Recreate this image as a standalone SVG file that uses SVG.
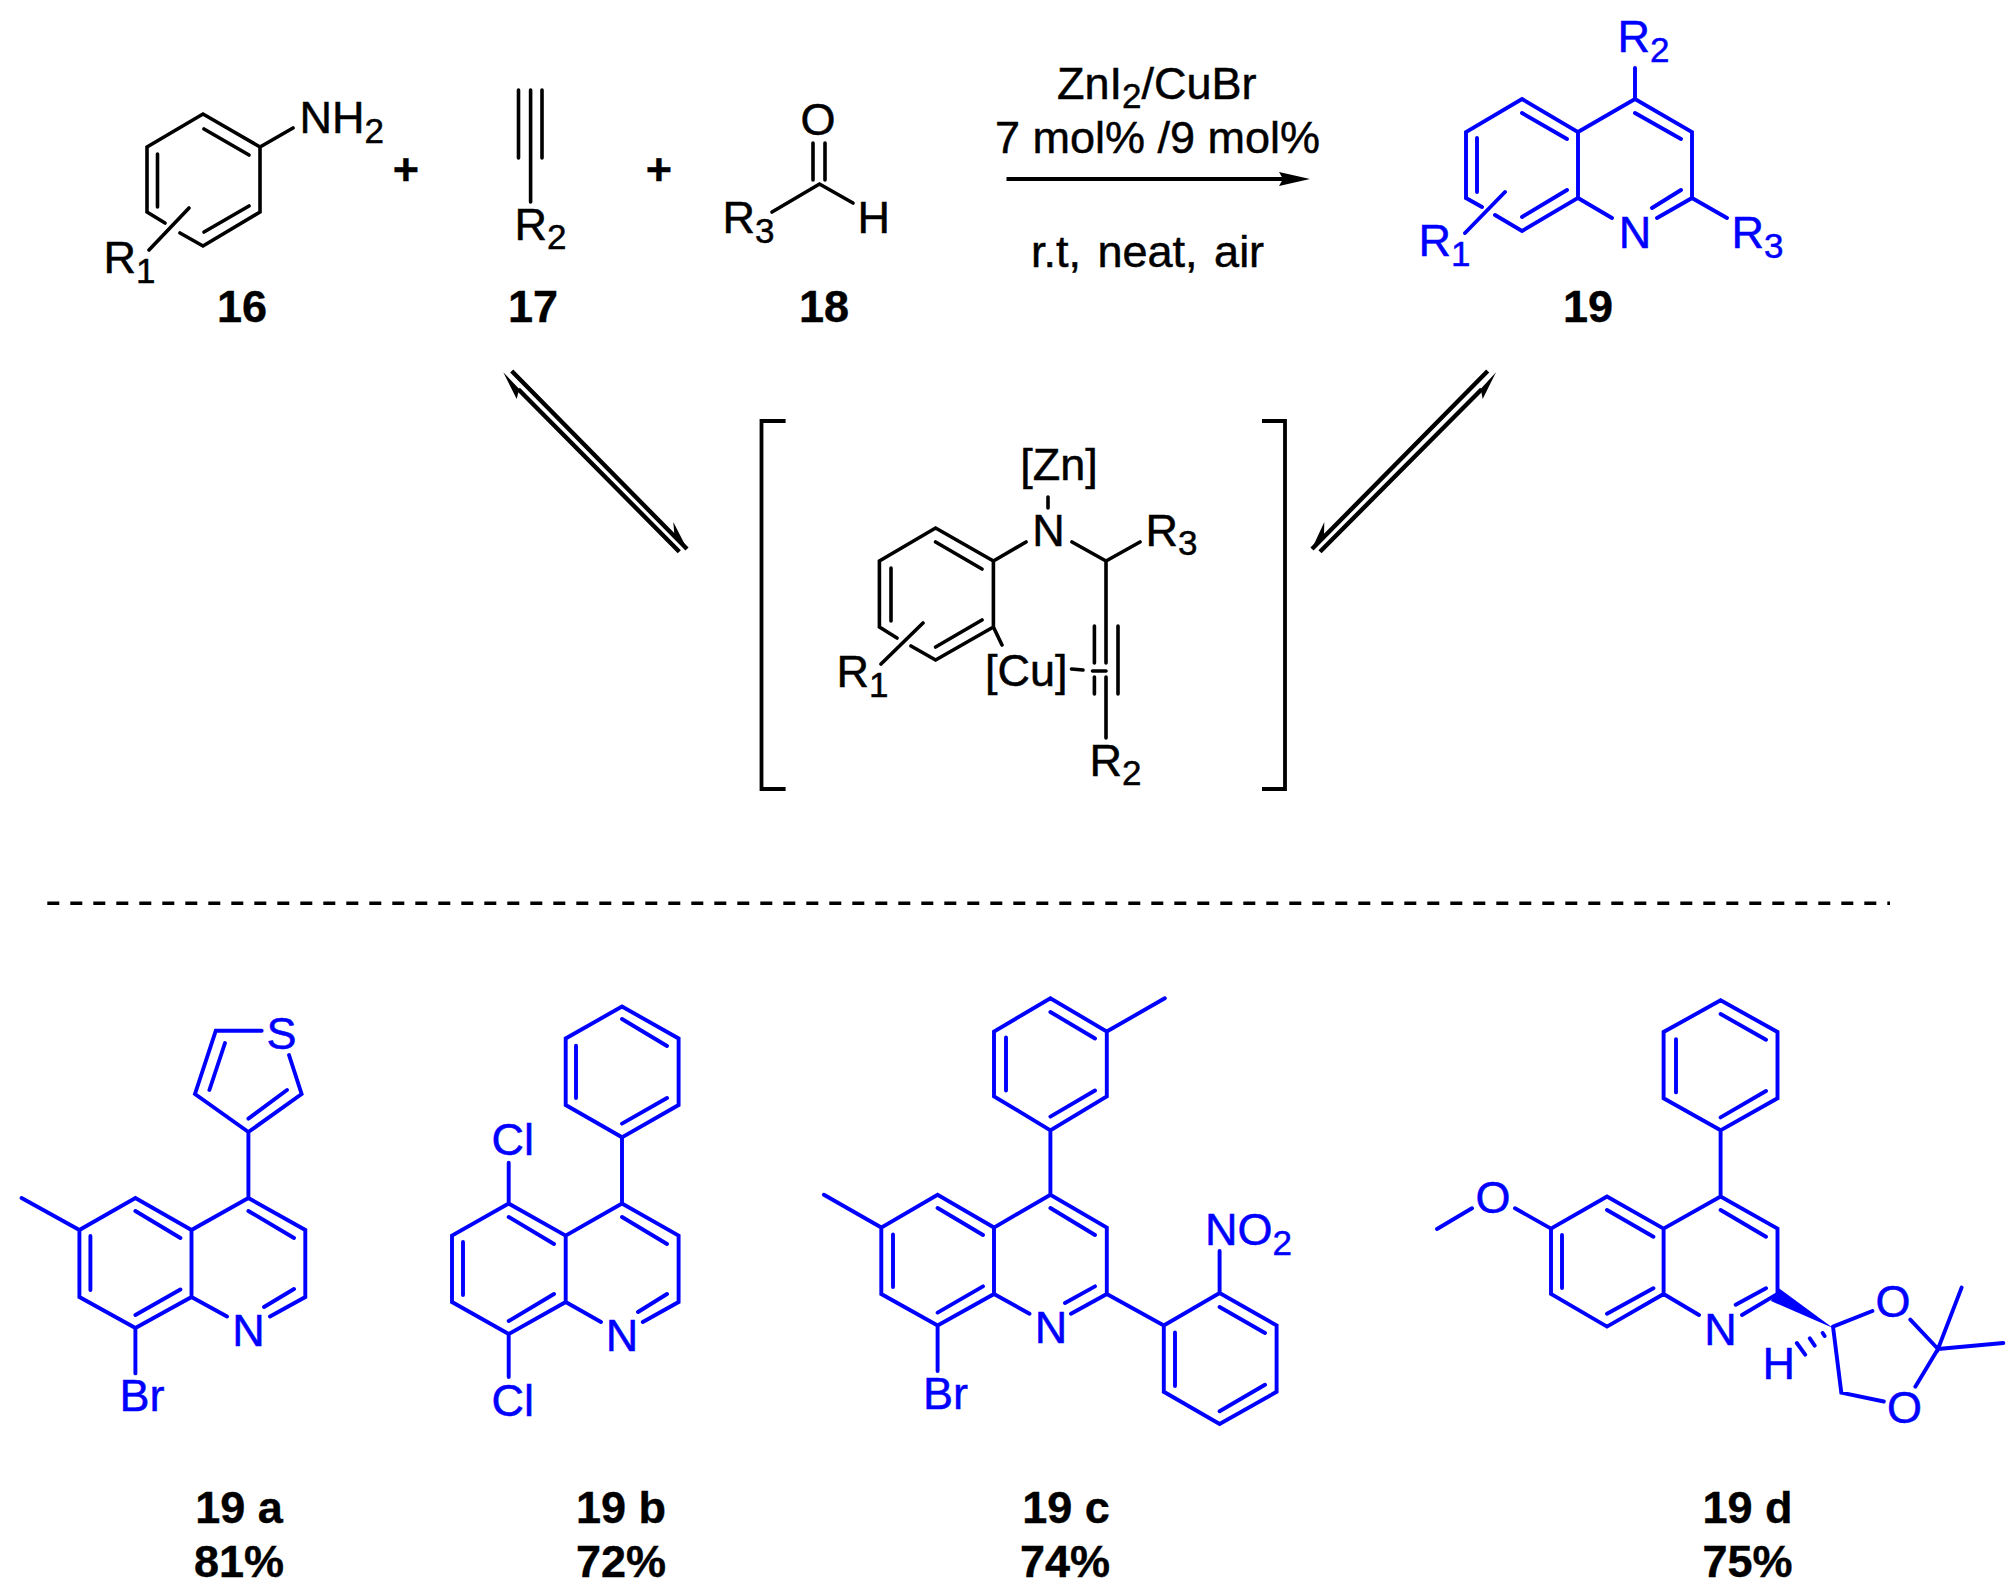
<svg xmlns="http://www.w3.org/2000/svg" width="2015" height="1592" viewBox="0 0 2015 1592">
<style>
text{font-family:"Liberation Sans",Arial,sans-serif;font-size:45px;fill:#000;stroke:#000;stroke-width:.5}
.u text{fill:#0000ff;stroke:#0000ff}
.s{font-size:35px}
.b{font-weight:bold;text-anchor:middle;stroke-width:.4}
.m{text-anchor:middle}
.w{word-spacing:4px}
path{fill:none;stroke:#000;stroke-width:3.6;stroke-linecap:round;stroke-linejoin:miter}
.u path{stroke:#0000ff;stroke-width:3.9}
.f{fill:#000;stroke:none}
</style>
<rect width="2015" height="1592" fill="#fff"/>
<g id="connectors">
<path d="M1006.5 179H1284" style="stroke-width:3.8;stroke-linecap:butt"/>
<polygon class="f" points="1279,172 1310,179 1279,186 1283,179"/>
<path d="M511.7 371L687 549M518.3 389.3L679.3 551.7" style="stroke-width:4.4;stroke-linecap:butt"/>
<polygon class="f" points="687.3,549.3 673.3,522 674.5,536 680,543"/>
<polygon class="f" points="503.3,372.3 516.7,399 519,390 524,394"/>
<path d="M1487.7 371L1312 549M1481.7 389.3L1320 551.7" style="stroke-width:4.4;stroke-linecap:butt"/>
<polygon class="f" points="1311.7,549.3 1324.3,522 1324,536 1319,543"/>
<polygon class="f" points="1496,372.3 1482.7,399 1481,390 1476,394"/>
<path d="M47.3 903.3H1890" style="stroke-dasharray:12 11;stroke-linecap:butt;stroke-width:3.4"/>
</g>
<g id="plus-1"><text class="b" x="406" y="185">+</text></g>
<g id="plus-2"><text class="b" x="659" y="185">+</text></g>
<g id="compound-16">
<path d="M165 223L147 212V147L203 114L260 147V212L203 246L180 233M204 129L249 155M157.5 154V207M204 232L249 206M260 147L293 128M189 208L149 250"/>
<text x="299.5" y="133">NH<tspan class="s" dy="10">2</tspan></text>
<text x="103.5" y="273">R<tspan class="s" dy="10">1</tspan></text>
<text class="b" x="242" y="322">16</text>
</g>
<g id="compound-17">
<path d="M518.5 90V158M542 90V158M530.6 90V202"/>
<text x="514.5" y="240">R<tspan class="s" dy="9">2</tspan></text>
<text class="b" x="533" y="322">17</text>
</g>
<g id="compound-18">
<path d="M813 143V180M825 143V180M772 212L819.5 184L853 203"/>
<text class="m" x="818" y="135">O</text>
<text x="722.5" y="233">R<tspan class="s" dy="10">3</tspan></text>
<text x="857.5" y="233">H</text>
<text class="b" x="824" y="322">18</text>
</g>
<g id="conditions">
<text x="1057" y="99">ZnI<tspan class="s" dy="9">2</tspan><tspan dy="-9">/CuBr</tspan></text>
<text x="995" y="153">7 mol% /9 mol%</text>
<text class="w" x="1031" y="267">r.t, neat, air</text>
</g>
<g id="compound-19" class="u">
<path d="M1482 207L1466 198V132L1522 99L1578 132V198L1522 231L1495 215M1578 132L1635 99L1692 132V198L1657 218M1578 198L1612 218M1522 113L1567 139M1477 138V192M1522 217L1567 190M1635 113L1681 139M1681 190L1652 208M1635 99V68M1692 198L1727 218M1505 192L1465 233"/>
<text class="m" x="1635" y="248">N</text>
<text x="1617.5" y="52">R<tspan class="s" dy="10">2</tspan></text>
<text x="1731.5" y="248">R<tspan class="s" dy="10">3</tspan></text>
<text x="1418.5" y="256">R<tspan class="s" dy="10">1</tspan></text>
</g>
<g id="label-19"><text class="b" x="1588" y="322">19</text></g>
<g id="intermediate">
<path d="M785.6 421H761.5V789H785.6M1262 421H1285V789H1262" style="stroke-width:3.8;stroke-linecap:butt"/>
<path d="M897 638L879.4 627V561L935.6 528L993.4 561V627L935.6 660L911 646M935.6 542L982 569M891 568V621M935.6 647L982 620M923 623L881 664M993.4 561L1026 542M1072 542L1106 561L1140 542M1048 497V508M1106 561V663M1106 677V738M1094.4 626V663M1094.4 677V694M1118 626V694M993.4 627L1002 645M1071.5 669L1083 670M1092.5 671H1106"/>
<text class="m" x="1048.5" y="546">N</text>
<text class="m" x="1059" y="480">[Zn]</text>
<text x="1145.5" y="546">R<tspan class="s" dy="9">3</tspan></text>
<text x="836.5" y="687">R<tspan class="s" dy="10">1</tspan></text>
<text x="985" y="686">[Cu]</text>
<text x="1089.5" y="776">R<tspan class="s" dy="9">2</tspan></text>
</g>
<g id="compound-19a" class="u">
<path d="M191.5 1230L135.4 1198L79.4 1230V1297L135.4 1328L191.5 1297V1230L248.4 1198L305.3 1230V1297L270 1316.5M191.5 1297L227 1316.5M135.4 1211L180.4 1238M90.4 1236V1290M135.4 1315L180.4 1289.5M248.4 1211L294 1238M294 1289L264 1307M79.4 1230L21.6 1198M135.4 1328V1373.4M248.4 1198V1132L301.6 1094L289 1055M261.7 1030.7H215.8L195 1094L248.4 1132M225 1043L209.4 1090M287 1090L248.4 1118.6"/>
<text class="m" x="248.4" y="1346">N</text>
<text x="119.5" y="1410.5">Br</text>
<text x="266.5" y="1049">S</text>
</g>
<g id="label-19a"><text class="b" x="239" y="1522.5">19 a</text><text class="b" x="239" y="1577">81%</text></g>
<g id="compound-19b" class="u">
<path d="M565.7 1235.6L508.7 1203.6L452 1235.6V1302L508.7 1334L565.7 1302V1235.6L622 1203.6L678.6 1235.6V1302L642.8 1322M565.7 1302L601 1322M508.7 1217L554 1244M463 1242V1295M508.7 1321L554 1294M622 1217L667 1244M667 1294L638 1312M508.7 1203.6V1162.7M508.7 1334V1377M622 1203.6V1137.3L678.6 1105V1038.5L622 1006.5L565.7 1038.5V1105L622 1137.3M622 1019L667 1046M576 1045.6V1098M622 1123.6L667 1098"/>
<text class="m" x="622" y="1350.8">N</text>
<text x="491.5" y="1154.5">Cl</text>
<text x="491.5" y="1416.4">Cl</text>
</g>
<g id="label-19b"><text class="b" x="621" y="1522.5">19 b</text><text class="b" x="621" y="1577">72%</text></g>
<g id="compound-19c" class="u">
<path d="M994 1227.5L937.6 1194.7L881.3 1227.5V1294L937.6 1325.4L994 1294V1227.5L1050.4 1194.7L1106.8 1227.5V1294L1071 1313.7M994 1294L1029.5 1313.7M937.6 1208L983 1235M893 1234.5V1287M937.6 1312.6L983 1286.4M1050.4 1208L1095 1235M1095 1286.4L1065 1303M881.3 1227.5L823.9 1194.7M937.6 1325.4V1371M1050.4 1194.7V1130.3L1106.8 1096.3V1031.5L1050.4 998.3L994 1031.5V1096.3L1050.4 1130.3M1106.8 1031.5L1164.8 998.3M1050.4 1012L1095 1038.5M1006 1037.4V1090.5M1050.4 1116.6L1095 1090.5M1106.8 1294L1163.8 1325.4L1219.6 1293L1276.6 1325.4V1391.8L1219.6 1424L1163.8 1391.8V1325.4M1219.6 1307L1265 1333M1175 1332.5V1386M1219.6 1411.3L1265 1384.8M1219.6 1293V1251"/>
<text class="m" x="1051" y="1343">N</text>
<text x="923" y="1409">Br</text>
<text x="1205" y="1245.4">NO<tspan class="s" dy="10">2</tspan></text>
</g>
<g id="label-19c"><text class="b" x="1066" y="1522.5">19 c</text><text class="b" x="1065" y="1577">74%</text></g>
<g id="compound-19d" class="u">
<path d="M1663.6 1228.6L1607 1196.6L1551 1228.6V1294L1607 1326.6L1663.6 1294V1228.6L1720.6 1196.6L1777.5 1228.6V1294L1742 1315M1663.6 1294L1699 1315M1607 1210L1653.4 1236.8M1562 1235V1288M1607 1313.7L1653.4 1288.3M1720.6 1210L1766 1236.8M1766 1288.3L1735.7 1304.7M1551 1228.6L1515 1208.3M1472 1208.3L1437 1229M1720.6 1196.6V1130.3L1777.5 1098.3V1032L1720.6 1000.3L1663.6 1032V1098.3L1720.6 1130.3M1720.6 1014L1766 1039.7M1676 1039.3V1092.4M1720.6 1117.4L1766 1091M1833 1326.6L1872.4 1311M1910.3 1319.6L1938 1349L1961.6 1287.6M1938 1349L2003.3 1343M1938 1349L1915.3 1386.7M1883.8 1401.5L1841.3 1392.6L1833 1326.6M1822.7 1333L1824.6 1336M1809.8 1338.3L1814.7 1345.7M1796.8 1343L1805.2 1354.7"/>
<polygon points="1778.6,1288 1771,1301 1833,1328" fill="#0000ff"/>
<text class="m" x="1720.6" y="1345">N</text>
<text class="m" x="1493" y="1213">O</text>
<text class="m" x="1893" y="1316.5">O</text>
<text class="m" x="1904.6" y="1423">O</text>
<text x="1762.5" y="1379.3">H</text>
</g>
<g id="label-19d"><text class="b" x="1747.5" y="1522.5">19 d</text><text class="b" x="1747.5" y="1577">75%</text></g>
</svg>
